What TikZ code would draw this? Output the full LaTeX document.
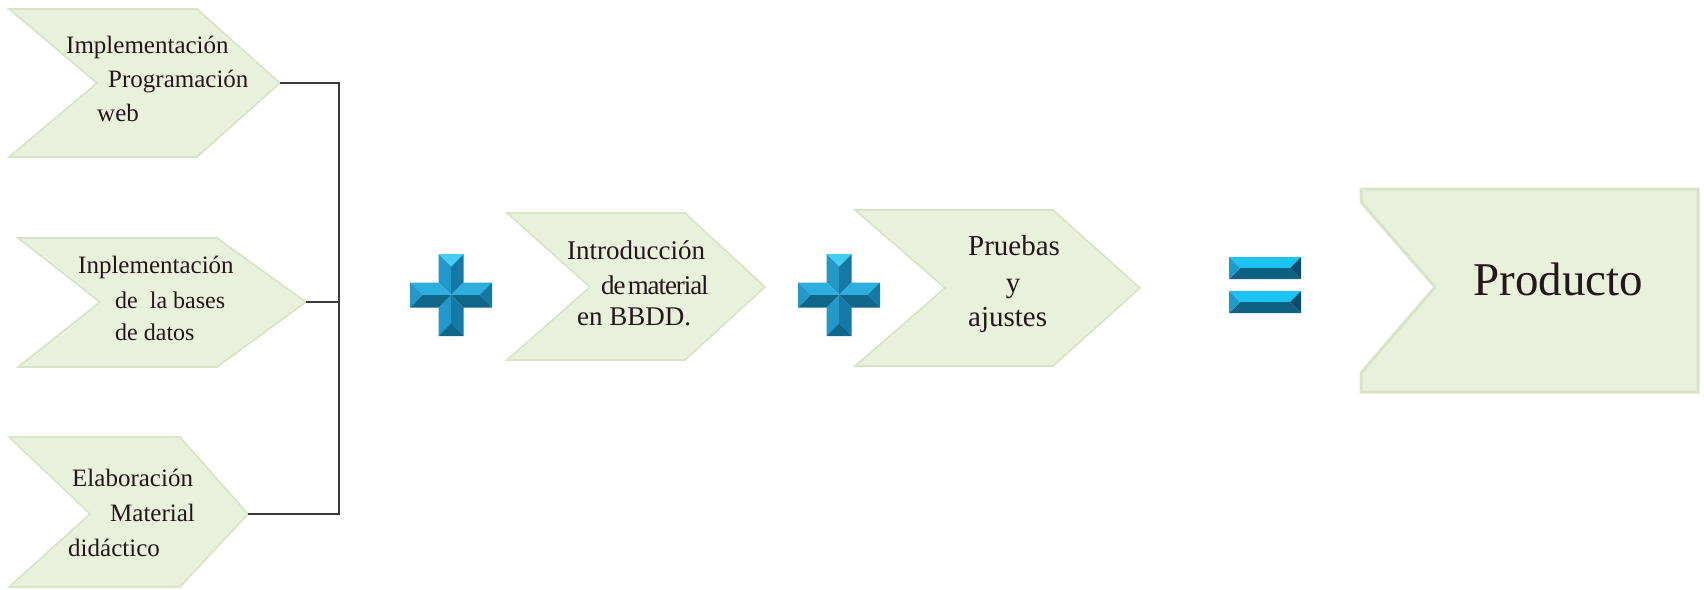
\documentclass[tikz,border=0pt]{standalone}
\usepackage{fontspec}
\setmainfont{Liberation Serif}
\definecolor{chevfill}{HTML}{E9F0DB}
\definecolor{chevline}{HTML}{D9E3C6}
\definecolor{connc}{HTML}{3A3A3A}
\definecolor{txt}{HTML}{231818}
\definecolor{blLight}{HTML}{45CDF3}
\definecolor{blLight2}{HTML}{2EAEDF}
\definecolor{blMed}{HTML}{2298CB}
\definecolor{blDark}{HTML}{1479A5}
\definecolor{blDarkest}{HTML}{0F6689}
\definecolor{eqTop}{HTML}{1CC4F4}
\definecolor{eqBot}{HTML}{0D6284}
\definecolor{eqLeft}{HTML}{1A9DCC}
\definecolor{eqRight}{HTML}{0A4E6B}
\begin{document}
\begin{tikzpicture}[x=1pt,y=-1pt,
  chev/.style={fill=chevfill,draw=chevline,line width=1.6pt,line join=miter},
  conn/.style={draw=connc,line width=1.6pt},
  lbl/.style={anchor=mid west,inner sep=0pt,text=txt},
  plussign/.pic={
    \def\L{41}\def\w{12.5}
    \fill[blMed] (-\w,-\L) -- (0,-\L+\w) -- (0,0) -- (-\w,-\w) -- cycle;
    \fill[blDark] (\w,-\L) -- (0,-\L+\w) -- (0,0) -- (\w,-\w) -- cycle;
    \fill[blLight] (-\w,-\L) -- (\w,-\L) -- (0,-\L+\w) -- cycle;
    \fill[blMed] (-\w,\L) -- (0,\L-\w) -- (0,0) -- (-\w,\w) -- cycle;
    \fill[blDark] (\w,\L) -- (0,\L-\w) -- (0,0) -- (\w,\w) -- cycle;
    \fill[blDarkest] (-\w,\L) -- (\w,\L) -- (0,\L-\w) -- cycle;
    \fill[blLight2] (-\L,-\w) -- (-\L+\w,0) -- (0,0) -- (-\w,-\w) -- cycle;
    \fill[blDarkest] (-\L,\w) -- (-\L+\w,0) -- (0,0) -- (-\w,\w) -- cycle;
    \fill[blMed] (-\L,-\w) -- (-\L,\w) -- (-\L+\w,0) -- cycle;
    \fill[blLight2] (\L,-\w) -- (\L-\w,0) -- (0,0) -- (\w,-\w) -- cycle;
    \fill[blDarkest] (\L,\w) -- (\L-\w,0) -- (0,0) -- (\w,\w) -- cycle;
    \fill[blDark] (\L,-\w) -- (\L,\w) -- (\L-\w,0) -- cycle;
  },
  eqbar/.pic={
    \fill[eqTop] (0,0) -- (72,0) -- (61,11) -- (11,11) -- cycle;
    \fill[eqBot] (0,22) -- (72,22) -- (61,11) -- (11,11) -- cycle;
    \fill[eqLeft] (0,0) -- (11,11) -- (0,22) -- cycle;
    \fill[eqRight] (72,0) -- (61,11) -- (72,22) -- cycle;
  }
]
\useasboundingbox (0,0) rectangle (1704,589);
\fill[white] (0,0) rectangle (1704,589);

% chevrons
\path[chev] (9,9) -- (197,9) -- (280,83) -- (197,157) -- (9,157) -- (97,83) -- cycle;
\path[chev] (18,238) -- (217,238) -- (306,302) -- (217,367) -- (18,367) -- (100,302) -- cycle;
\path[chev] (9,437) -- (180,437) -- (248,514) -- (180,587) -- (9,587) -- (90,514) -- cycle;
\path[chev] (507,213) -- (685,213) -- (765,287) -- (685,360) -- (507,360) -- (590,287) -- cycle;
\path[chev] (855,210) -- (1053,210) -- (1140,288) -- (1053,366) -- (855,366) -- (945,288) -- cycle;
\path[chev,line width=3pt] (1361,189) -- (1698,189) -- (1698,392) -- (1361,392) -- (1361,373) -- (1435,287) -- (1361,202) -- cycle;

\coordinate (c1tip) at (280,83);
\coordinate (c2tip) at (306,302);
\coordinate (c3tip) at (248,514);
\coordinate (jtop) at (339,83);
\coordinate (jmid) at (339,302);
\coordinate (jbot) at (339,514);

% connectors
\draw[conn] (c1tip) -- (jtop) -- (jbot) -- (c3tip);
\draw[conn] (c2tip) -- (jmid);

% labels
\begin{scope}[every node/.append style={font=\fontsize{25}{30}\selectfont}]
\node[lbl] (t1a) at (66,51) {Implementación};
\node[lbl] (t1b) at (108,85) {Programación};
\node[lbl] (t1c) at (97,119) {web};
\node[lbl,font=\fontsize{25}{30}\selectfont] (t2a) at (78,271) {Inplementación};
\node[lbl,font=\fontsize{24}{29}\selectfont] (t2b) at (115,306) {de\ \ la bases};
\node[lbl,font=\fontsize{24}{29}\selectfont] (t2c) at (115,338) {de datos};
\node[lbl] (t3a) at (72,484) {Elaboración};
\node[lbl] (t3b) at (110,519) {Material};
\node[lbl] (t3c) at (68,554) {didáctico};
\end{scope}
\begin{scope}[every node/.append style={font=\fontsize{27}{32}\selectfont}]
\node[lbl] (t4a) at (567,257) {Introducción};
\node[lbl] (t4b) at (601,292) {\addfontfeature{LetterSpace=-4}de\hspace{0.08em}material};
\node[lbl] (t4c) at (577,323) {en BBDD.};
\end{scope}
\begin{scope}[every node/.append style={font=\fontsize{29}{34}\selectfont}]
\node[lbl] (t5a) at (968,253) {Pruebas};
\node[lbl,anchor=mid] (t5b) at (1013,290) {y};
\node[lbl] (t5c) at (968,324) {ajustes};
\end{scope}
\node[lbl,font=\fontsize{47}{53}\selectfont] (prod) at (1473,293) {Producto};

% operators
\pic (plusA) at (451,295) {plussign};
\pic (plusB) at (839,295) {plussign};
\pic (eqA) at (1229,257) {eqbar};
\pic (eqB) at (1229,291) {eqbar};
\end{tikzpicture}
\end{document}
